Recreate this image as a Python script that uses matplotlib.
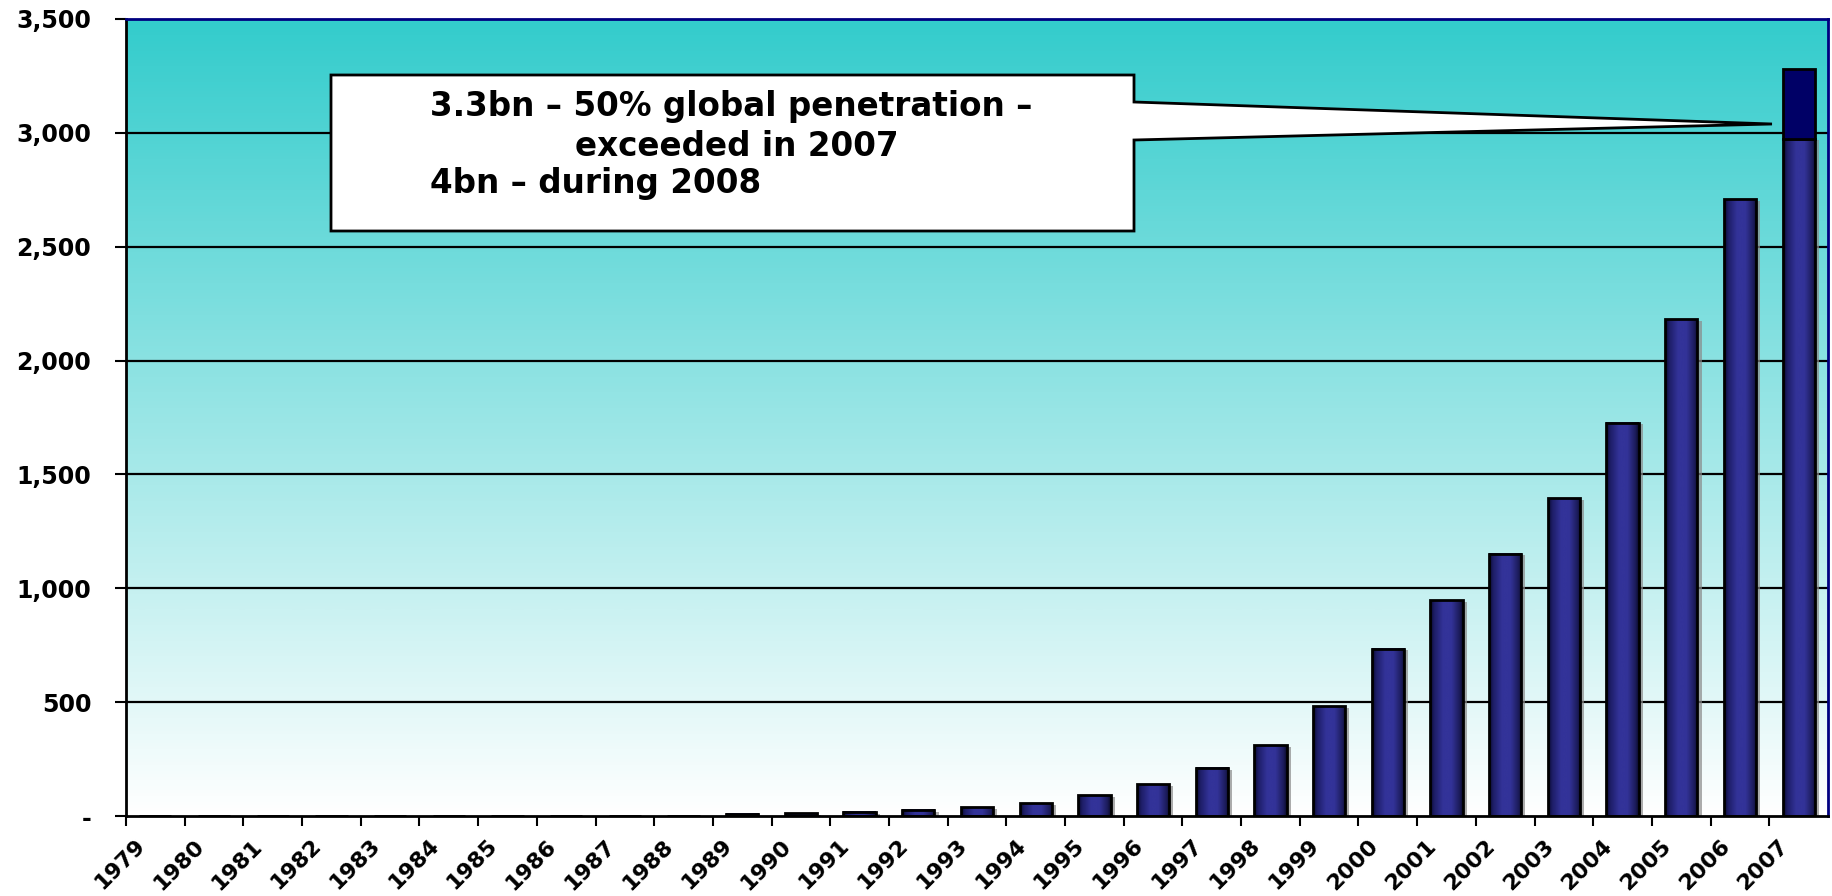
import numpy as np
import matplotlib
matplotlib.use('Agg')
import matplotlib.pyplot as plt
import matplotlib.transforms as mtransforms
from matplotlib.colors import LinearSegmentedColormap
from matplotlib.patches import Polygon

years = ['1979', '1980', '1981', '1982', '1983', '1984', '1985', '1986', '1987', '1988',
         '1989', '1990', '1991', '1992', '1993', '1994', '1995', '1996', '1997', '1998',
         '1999', '2000', '2001', '2002', '2003', '2004', '2005', '2006', '2007']
subscribers = [0, 0, 0, 0, 0, 0, 0, 0, 0, 0,
               10, 11, 18, 27, 38, 56, 92, 140, 212, 310,
               483, 735, 948, 1152, 1395, 1728, 2182, 2708, 2975]
total_2007 = 3280
yticks = [0, 500, 1000, 1500, 2000, 2500, 3000, 3500]
ytick_labels = ['-', '500', '1,000', '1,500', '2,000', '2,500', '3,000', '3,500']
callout_lines = ['3.3bn \u2013 50% global penetration \u2013',
                 'exceeded in 2007',
                 '4bn \u2013 during 2008']

plt.rcParams['font.family'] = ['DejaVu Sans']

W, H = 1833, 896
fig = plt.figure(figsize=(W / 100, H / 100), dpi=100)
ax = fig.add_axes([126 / W, 80 / H, 1702 / W, 797 / H])

n = len(years)
x = np.arange(n) + 0.5
ax.set_xlim(0, n)
ax.set_ylim(0, 3500)

# background gradient
bg_cmap = LinearSegmentedColormap.from_list('bg', ['#FFFFFF', '#33CCCC'])
grad = np.linspace(1, 0, 256).reshape(-1, 1)
ax.imshow(grad, extent=[0, n, 0, 3500], aspect='auto', cmap=bg_cmap,
          origin='upper', zorder=0, interpolation='bicubic')

# gridlines
for yv in yticks[1:-1]:
    ax.axhline(yv, color='black', linewidth=1.6, zorder=1)

bw = 0.55
# shadow
ax.bar(x + 0.07, np.array(subscribers) - 8, width=bw, color='#8a8a8a', alpha=0.7,
       zorder=2, linewidth=0)

# bar gradient
bar_cmap = LinearSegmentedColormap.from_list(
    'bar', [(0.0, '#08082a'), (0.12, '#1d1d66'), (0.4, '#333399'),
            (0.65, '#333399'), (0.9, '#1c1c5c'), (1.0, '#0a0a2a')])
hgrad = np.linspace(0, 1, 64).reshape(1, -1)
for xi, v in zip(x, subscribers):
    if v > 0:
        ax.imshow(hgrad, extent=[xi - bw / 2, xi + bw / 2, 0, v], aspect='auto',
                  cmap=bar_cmap, origin='lower', zorder=3, interpolation='bicubic')
ax.bar(x, subscribers, width=bw, facecolor='none', edgecolor='black',
       linewidth=2, zorder=4)

# top part of 2007 bar
ax.bar(x[-1], total_2007 - subscribers[-1], bottom=subscribers[-1], width=bw,
       color='#000066', edgecolor='black', linewidth=2, zorder=4)

# spines
for s in ['left', 'bottom']:
    ax.spines[s].set_color('black')
    ax.spines[s].set_linewidth(2)
for s in ['top', 'right']:
    ax.spines[s].set_color('#000080')
    ax.spines[s].set_linewidth(2)
for s in ax.spines.values():
    s.set_zorder(6)

ax.set_yticks(yticks)
ax.set_yticklabels(ytick_labels, fontsize=17, fontweight='bold')
ax.tick_params(axis='y', direction='out', length=8, width=1.5, pad=17)
ax.set_xticks(np.arange(n))
ax.set_xticklabels(years, fontsize=16, fontweight='bold', rotation=45,
                   ha='right', rotation_mode='anchor')
ax.tick_params(axis='x', direction='out', length=7, width=1.5, pad=7)
offset = mtransforms.ScaledTranslation(9 / 100, 0, fig.dpi_scale_trans)
for lbl in ax.get_xticklabels():
    lbl.set_transform(lbl.get_transform() + offset)

# callout
def px2data(px, py):
    return ((px - 126) / 1702 * n, (816 - py) / 797 * 3500)

L, T = px2data(331, 75)
R, B = px2data(1134, 231)
_, pt = px2data(0, 102)
_, pb = px2data(0, 140)
tx, ty = px2data(1772, 124)
poly = Polygon([(L, T), (R, T), (R, pt), (tx, ty), (R, pb), (R, B), (L, B)],
               closed=True, facecolor='white', edgecolor='black', linewidth=2,
               zorder=7)
ax.add_patch(poly)

pos = [(430, 106), (575, 146), (430, 184)]
for (px, py), line in zip(pos, callout_lines):
    dx, dy = px2data(px, py)
    ax.text(dx, dy, line, fontsize=23.5, fontweight='bold', ha='left',
            va='center', zorder=8, color='black')

fig.savefig('out.png', dpi=100)
